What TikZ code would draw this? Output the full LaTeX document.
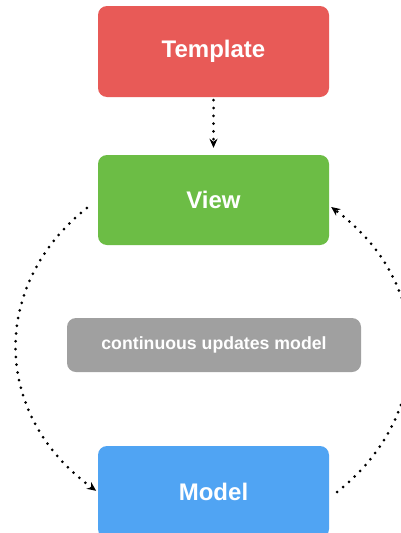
\documentclass[tikz,border=0pt]{standalone}
\usepackage{fontspec}
\setmainfont{Liberation Sans}
\usetikzlibrary{arrows.meta,calc}
\definecolor{tred}{RGB}{232,90,87}
\definecolor{vgreen}{RGB}{108,189,69}
\definecolor{ngray}{RGB}{160,160,160}
\definecolor{mblue}{RGB}{80,164,243}
\tikzset{
  box/.style={rounded corners=9pt, minimum width=231pt, inner sep=0pt, text=white,
    font=\bfseries\fontsize{24}{28}\selectfont},
  notebox/.style={rounded corners=9pt, fill=ngray, minimum width=294pt, minimum height=54pt,
    inner sep=0pt, text=white, font=\bfseries\fontsize{17.7}{21}\selectfont},
  dotline/.style={line width=3pt, line cap=round, dash pattern=on 0pt off 7.8pt,
    -{Stealth[length=9pt,width=8pt,line cap=butt]}},
}
\begin{document}
\begin{tikzpicture}[x=1pt,y=-1pt]
\useasboundingbox (0,0) rectangle (401,533);
\clip (0,0) rectangle (401,533);
\fill[white] (0,0) rectangle (401,533);
\node[box, fill=tred, minimum height=91pt] (template) at (213.5,51.5) {Template};
\node[box, fill=vgreen, minimum height=90pt] (view) at (213.5,200) {View};
\node[notebox] (note) at (214,345) {continuous updates model};
\node[box, fill=mblue, minimum height=92pt] (model) at (213.5,492) {Model};
\coordinate (lstart) at ($(view.west)+(-11,8)$);
\coordinate (rstart) at ($(model.east)+(8,0)$);
\coordinate (rend) at ($(view.east)+(2,7)$);
\draw[dotline, shorten <=3pt, shorten >=7pt] (template) -- (view);
\draw[dotline, shorten >=2pt] (lstart) .. controls (-10,285) and (-8,415) .. (model.west);
\draw[dotline] (rstart) .. controls (434,415) and (436,285) .. (rend);
\end{tikzpicture}
\end{document}
